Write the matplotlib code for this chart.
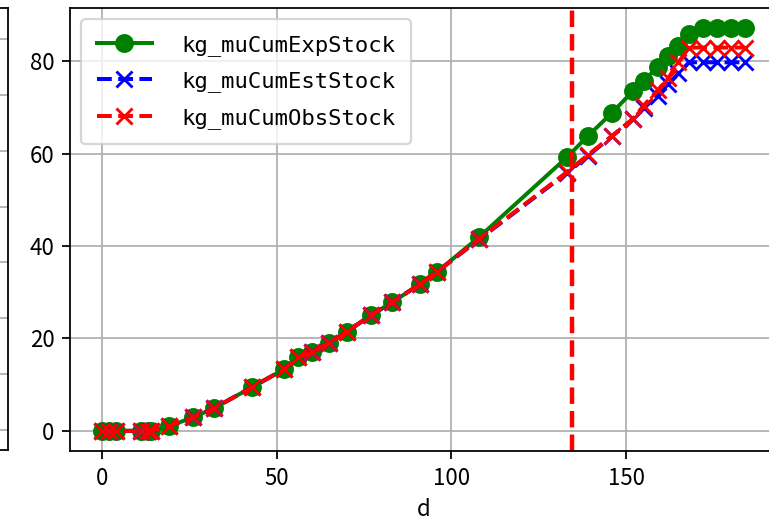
import matplotlib
matplotlib.use("Agg")
import matplotlib.pyplot as plt
from matplotlib.ticker import MultipleLocator

# days
d = [0, 2, 4, 11, 13, 14, 19, 26, 32, 43, 52, 56, 60, 65, 70, 77, 83, 91, 96,
     108, 133, 139, 146, 152, 155, 159, 162, 165, 168, 172, 176, 180, 184]

# cumulative stocks (kg)
exp_stock = [0, 0, 0, 0, 0, 0, 1.0, 2.9, 4.9, 9.5, 13.3, 15.9, 17.0, 19.1, 21.4,
             25.1, 27.8, 31.8, 34.5, 42.0, 59.2, 63.8, 68.9, 73.6, 75.8, 78.7,
             81.2, 83.4, 85.9, 87.2, 87.2, 87.2, 87.2]
est_stock = [0, 0, 0, 0, 0, 0, 1.0, 2.9, 4.9, 9.5, 13.3, 15.9, 17.0, 19.1, 21.4,
             25.1, 27.8, 31.8, 34.5, 41.5, 55.8, 59.5, 63.8, 67.5, 70.0, 72.6,
             75.0, 77.4, 79.8, 79.8, 79.8, 79.8, 79.8]
obs_stock = [0, 0, 0, 0, 0, 0, 1.0, 2.9, 4.9, 9.5, 13.3, 15.9, 17.0, 19.1, 21.4,
             25.1, 27.8, 31.8, 34.5, 41.6, 56.0, 59.7, 63.9, 67.6, 70.4, 73.7,
             76.3, 79.8, 83.0, 83.0, 83.0, 83.0, 83.0]

cutoff_day = 134.5
# y-range of the neighbouring (cropped) panel
neighbour_ylim = (-0.36, 7.56)

plt.rcParams['font.family'] = ['Noto Sans CJK JP', 'DejaVu Sans']

W, H, DPI = 769, 520, 160
fig = plt.figure(figsize=(W / DPI, H / DPI), dpi=DPI)

# neighbouring subplot, only its right edge is visible
ax0 = fig.add_axes([(8 - 707) / W, (H - 450) / H, 707 / W, 442 / H])
ax0.set_ylim(*neighbour_ylim)
ax0.set_yticks(range(0, 8))
ax0.grid(True)
ax0.set_xticks([])
ax0.tick_params(labelleft=False, left=False)

# main panel (extends past the right edge of the image)
ax = fig.add_axes([70 / W, (H - 451) / H, 707 / W, 443 / H])
ax.plot(d, exp_stock, "o-", color="green", markersize=7.5, linewidth=1.8,
        label="kg_muCumExpStock")
ax.plot(d, est_stock, "x--", color="blue", markersize=7.5, linewidth=1.8,
        markeredgewidth=1.3, label="kg_muCumEstStock")
ax.plot(d, obs_stock, "x--", color="red", markersize=7.5, linewidth=1.8,
        markeredgewidth=1.3, label="kg_muCumObsStock")
ax.axvline(cutoff_day, color="red", linestyle="--", linewidth=2)

ax.xaxis.set_major_locator(MultipleLocator(50))
ax.set_xlabel("d")
ax.grid(True)
ax.legend(loc="upper left", prop={"family": "DejaVu Sans Mono", "size": 10},
          handlelength=2.5, handletextpad=1.3, labelspacing=0.7, borderpad=0.7)

fig.savefig("out.png", dpi=DPI)
